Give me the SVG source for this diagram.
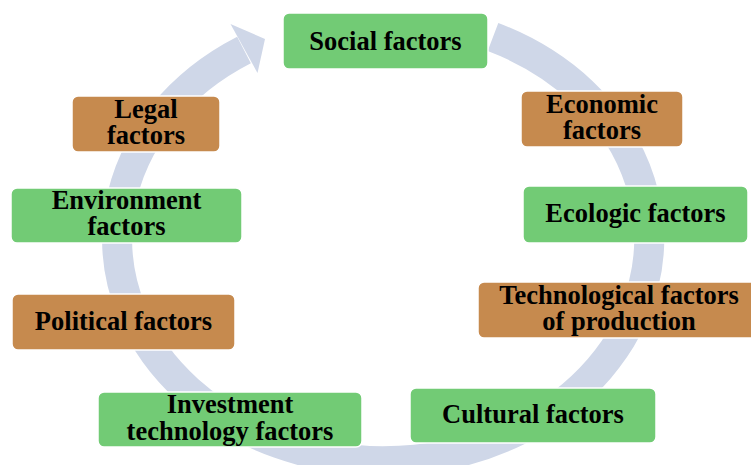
<svg xmlns="http://www.w3.org/2000/svg" width="751" height="465" viewBox="0 0 751 465">
<style>
.ring{fill:none;stroke:#CFD7E8;stroke-width:30}
.head{fill:#CFD7E8}
.g{fill:#72CB75;stroke:#fff;stroke-width:1.5}
.b{fill:#C68A4E;stroke:#fff;stroke-width:1.5}
text{font-family:"Liberation Serif","Times New Roman",serif;font-weight:bold;font-size:26.5px;fill:#000;text-anchor:middle}
</style>
<rect width="751" height="465" fill="#fff"/>
<g id="connectors">
<path class="ring" d="M 493,37 A 266 222 0 1 1 244,50"/>
<polygon class="head" points="230.5,24 265,39 257.5,73"/>
</g>
<g id="social"><rect class="g" x="283" y="13" width="205" height="56" rx="6"/><text x="385.5" y="50">Social factors</text></g>
<g id="economic"><rect class="b" x="521" y="91" width="162" height="56" rx="6"/><text x="602" y="113">Economic</text><text x="602" y="139">factors</text></g>
<g id="ecologic"><rect class="g" x="523" y="186" width="225" height="57" rx="6"/><text x="635.5" y="222">Ecologic factors</text></g>
<g id="technological"><rect class="b" x="478" y="282" width="282" height="56" rx="6"/><text x="619" y="304">Technological factors</text><text x="619" y="330">of production</text></g>
<g id="cultural"><rect class="g" x="410" y="388" width="246" height="55" rx="6"/><text x="533" y="423">Cultural factors</text></g>
<g id="investment"><rect class="g" x="98" y="392" width="264" height="55" rx="6"/><text x="230" y="413">Investment</text><text x="230" y="440">technology factors</text></g>
<g id="political"><rect class="b" x="12" y="294" width="223" height="56" rx="6"/><text x="123.5" y="330">Political factors</text></g>
<g id="environment"><rect class="g" x="11" y="188" width="231" height="55" rx="6"/><text x="126.5" y="209">Environment</text><text x="126.5" y="235">factors</text></g>
<g id="legal"><rect class="b" x="72" y="96" width="148" height="56" rx="6"/><text x="146" y="118">Legal</text><text x="146" y="144">factors</text></g>
</svg>
